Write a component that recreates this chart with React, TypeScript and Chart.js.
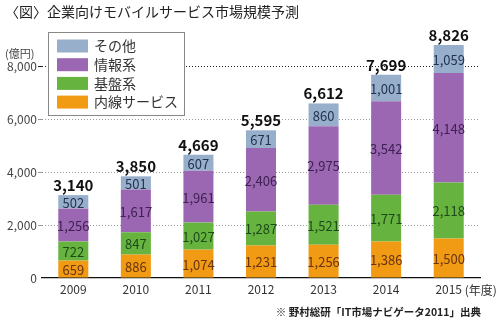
import React, { useEffect, useRef } from "react";
import { Chart, registerables } from "chart.js";

Chart.register(...registerables);

const years = ["2009", "2010", "2011", "2012", "2013", "2014", "2015"];
const innerLine = [659, 886, 1074, 1231, 1256, 1386, 1500];
const base = [722, 847, 1027, 1287, 1521, 1771, 2118];
const info = [1256, 1617, 1961, 2406, 2975, 3542, 4148];
const other = [502, 501, 607, 671, 860, 1001, 1059];
const totals = [3140, 3850, 4669, 5595, 6612, 7699, 8826];
const seriesNames = ["内線サービス", "基盤系", "情報系", "その他"];
const title = "〈図〉企業向けモバイルサービス市場規模予測";
const unitLabel = "(億円)";
const yearUnit = "(年度)";
const footnote = "※ 野村総研「IT市場ナビゲータ2011」出典";

const colors = ["#F19A14", "#66B43F", "#9C67B2", "#97AFCB"];
const labelColors = ["#6A3412", "#1E4A1A", "#3E2152", "#22334F"];
const FONT = "'Noto Sans CJK JP', 'Noto Sans', sans-serif";

const fmt = (v: number) => v.toLocaleString("en-US");

const overlayPlugin = {
  id: "overlay",
  afterDatasetsDraw(chart: any) {
    const ctx = chart.ctx;
    ctx.save();
    ctx.textAlign = "center";
    ctx.textBaseline = "middle";
    chart.data.datasets.forEach((ds: any, di: number) => {
      const meta = chart.getDatasetMeta(di);
      meta.data.forEach((el: any, i: number) => {
        ctx.font = `13px ${FONT}`;
        ctx.fillStyle = labelColors[di];
        ctx.fillText(fmt(ds.data[i]), el.x, (el.y + el.base) / 2 + 1);
      });
    });
    const topMeta = chart.getDatasetMeta(chart.data.datasets.length - 1);
    topMeta.data.forEach((el: any, i: number) => {
      ctx.font = `bold 15px ${FONT}`;
      ctx.fillStyle = "#111";
      ctx.textBaseline = "alphabetic";
      ctx.fillText(fmt(totals[i]), el.x, el.y - 4);
    });
    ctx.restore();
  },
  afterDraw(chart: any) {
    const ctx = chart.ctx;
    const ca = chart.chartArea;
    ctx.save();
    // title
    ctx.font = `14px ${FONT}`;
    ctx.fillStyle = "#222";
    ctx.textAlign = "left";
    ctx.textBaseline = "middle";
    ctx.fillText(title, 5, 12);
    // unit
    ctx.font = `11px ${FONT}`;
    ctx.fillStyle = "#444";
    ctx.fillText(unitLabel, 5, 54);
    // legend box
    const lx = ca.left + 6;
    const ly = 32;
    ctx.fillStyle = "#fff";
    ctx.fillRect(lx, ly, 136, 83);
    ctx.strokeStyle = "#888";
    ctx.lineWidth = 1;
    ctx.strokeRect(lx + 0.5, ly + 0.5, 136, 83);
    ctx.font = `14px ${FONT}`;
    for (let k = 0; k < 4; k++) {
      const idx = 3 - k;
      const cy = ly + 14 + k * 18.7;
      ctx.fillStyle = colors[idx];
      ctx.fillRect(lx + 9, cy - 6.5, 31, 13);
      ctx.fillStyle = "#333";
      ctx.fillText(seriesNames[idx], lx + 46, cy);
    }
    // year unit
    const xs = chart.scales.x;
    const lastX = xs.getPixelForValue(years.length - 1);
    ctx.font = `12px ${FONT}`;
    ctx.fillStyle = "#333";
    ctx.fillText(yearUnit, lastX + 16, 290);
    // footnote
    ctx.font = `bold 10.5px ${FONT}`;
    ctx.fillStyle = "#222";
    ctx.textAlign = "right";
    ctx.fillText(footnote, 481, 312);
    ctx.restore();
  },
};

export default function App() {
  const ref = useRef<HTMLCanvasElement | null>(null);
  useEffect(() => {
    document.body.style.margin = "0";
    const canvas = ref.current!;
    const chart = new Chart(canvas, {
      type: "bar",
      data: {
        labels: years,
        datasets: [innerLine, base, info, other].map((d, i) => ({
          label: seriesNames[i],
          data: d,
          backgroundColor: colors[i],
          borderWidth: 0,
          barPercentage: 0.48,
          categoryPercentage: 1,
        })),
      },
      options: {
        responsive: false,
        animation: false,
        layout: { padding: { left: 0, right: 20, top: 14, bottom: 0 } },
        plugins: {
          legend: { display: false },
          tooltip: { enabled: false },
          title: { display: false },
        },
        scales: {
          x: {
            stacked: true,
            grid: { display: false, drawTicks: false },
            border: { display: true, color: "#111", width: 1.2 },
            ticks: {
              color: "#333",
              font: { family: FONT, size: 12 },
              padding: 4,
            },
            afterFit: (s: any) => {
              s.height = 47;
            },
          },
          y: {
            stacked: true,
            min: 0,
            max: 10000,
            border: { display: false, dash: [1, 2] },
            grid: {
              color: (c: any) => {
                const v = c.tick?.value;
                if (v === 0 || v === 10000) return "rgba(0,0,0,0)";
                if (v === 8000) return "#222";
                return "#999";
              },
              drawTicks: true,
              tickLength: 4,
            },
            ticks: {
              stepSize: 2000,
              color: "#444",
              padding: 1,
              font: { family: FONT, size: 12 },
              callback: (v: any) => (v === 10000 ? "" : fmt(Number(v))),
            },
            afterFit: (s: any) => {
              s.width = 42;
            },
          },
        },
      },
      plugins: [overlayPlugin],
    });
    return () => chart.destroy();
  }, []);
  return (
    <div style={{ position: "absolute", left: 0, top: 0, width: 500, height: 325, background: "#fff" }}>
      <canvas ref={ref} width={500} height={325} />
    </div>
  );
}
